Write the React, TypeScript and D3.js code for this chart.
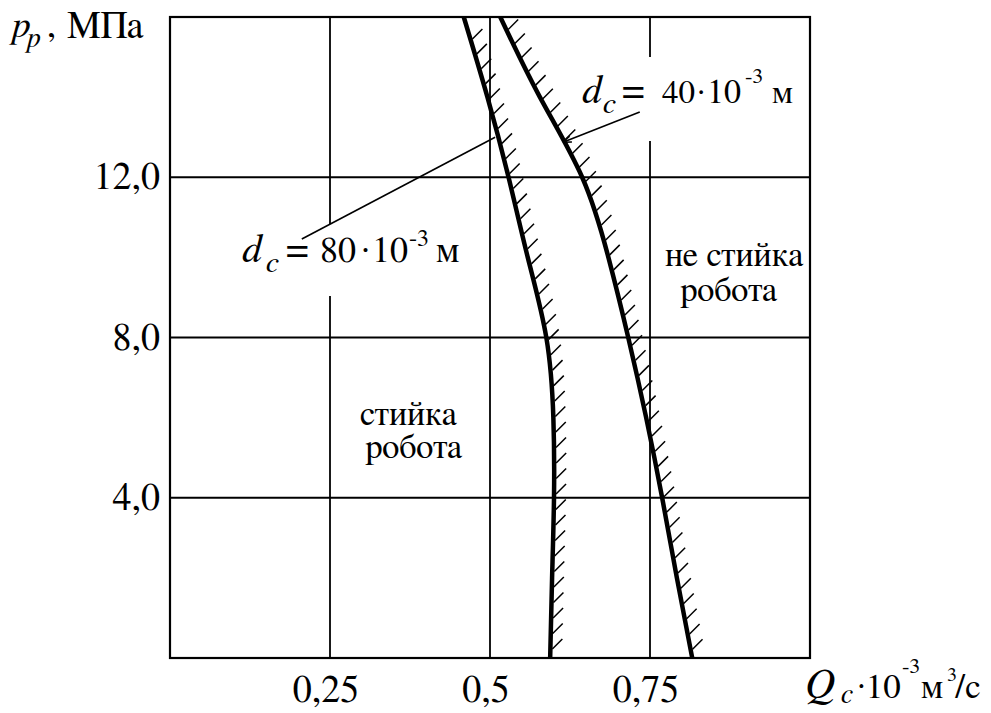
import React, { useEffect, useRef } from 'react';
import * as d3 from 'd3';

// Axis ticks
const pressureTicks = [4, 8, 12];
const pressureTickLabels = ['4,0', '8,0', '12,0'];
const flowTicks = [0.25, 0.5, 0.75];
const flowTickLabels = ['0,25', '0,5', '0,75'];

// Curves: pressure p_p (MPa) vs flow Q_c (10^-3 m^3/s)
const pressure = [0, 2, 4, 6, 8, 10, 12, 14, 16];
const flowD80 = [0.594, 0.597, 0.6, 0.599, 0.588, 0.559, 0.529, 0.496, 0.459];
const flowD40 = [0.816, 0.792, 0.769, 0.744, 0.716, 0.685, 0.644, 0.578, 0.516];

// Leader lines (data coords): [fromQ, fromP, toQ, toP]
const leader40 = [0.734, 13.63, 0.614, 12.875];
const leader80 = [0.206, 10.46, 0.508, 13.0];

const FONT = "FreeSerif, 'Times New Roman', serif";

export default function App() {
  const ref = useRef<SVGSVGElement | null>(null);

  useEffect(() => {
    const svg = d3.select(ref.current);
    svg.selectAll('*').remove();

    const x = d3.scaleLinear().domain([0, 1]).range([170, 810]);
    const y = d3.scaleLinear().domain([0, 16]).range([658, 17]);

    const g = svg.append('g');

    // grid
    g.selectAll('line.vg')
      .data(flowTicks)
      .enter()
      .append('line')
      .attr('x1', (d) => x(d))
      .attr('x2', (d) => x(d))
      .attr('y1', y(16))
      .attr('y2', y(0))
      .attr('stroke', '#000')
      .attr('stroke-width', 1.8);
    g.selectAll('line.hg')
      .data(pressureTicks)
      .enter()
      .append('line')
      .attr('x1', x(0))
      .attr('x2', x(1))
      .attr('y1', (d) => y(d))
      .attr('y2', (d) => y(d))
      .attr('stroke', '#000')
      .attr('stroke-width', 1.8);

    // label backgrounds (break gridlines)
    g.append('rect').attr('x', 574).attr('y', 57).attr('width', 232).attr('height', 84).attr('fill', '#fff');
    g.append('rect').attr('x', 236).attr('y', 224).attr('width', 234).attr('height', 72).attr('fill', '#fff');

    const line = d3
      .line<number>()
      .x((d) => x(d))
      .y((_, i) => y(pressure[i]))
      .curve(d3.curveNatural);

    [flowD80, flowD40].forEach((series) => {
      const path = g
        .append('path')
        .attr('d', line(series) as string)
        .attr('fill', 'none')
        .attr('stroke', '#000')
        .attr('stroke-width', 4.5)
        .attr('stroke-linecap', 'butt');
      const node = path.node() as SVGPathElement;
      const L = node.getTotalLength();
      const pts: { x: number; y: number }[] = [];
      for (let s = 9; s < L - 8; s += 15.5) {
        const p = node.getPointAtLength(s);
        pts.push({ x: p.x, y: p.y });
      }
      g.selectAll(null)
        .data(pts)
        .enter()
        .append('line')
        .attr('x1', (d) => d.x + 2)
        .attr('y1', (d) => d.y)
        .attr('x2', (d) => d.x + 12)
        .attr('y2', (d) => d.y - 10)
        .attr('stroke', '#000')
        .attr('stroke-width', 1.5);
    });

    // leader lines
    [leader40, leader80].forEach((l, idx) => {
      const x1 = x(l[0]), y1 = y(l[1]), x2 = x(l[2]), y2 = y(l[3]);
      g.append('line')
        .attr('x1', x1).attr('y1', y1).attr('x2', x2).attr('y2', y2)
        .attr('stroke', '#000').attr('stroke-width', 1.6);
      if (idx === 0) {
        const ang = Math.atan2(y1 - y2, x1 - x2);
        const len = 9;
        [0.35, -0.35].forEach((da) => {
          g.append('line')
            .attr('x1', x2).attr('y1', y2)
            .attr('x2', x2 + len * Math.cos(ang + da))
            .attr('y2', y2 + len * Math.sin(ang + da))
            .attr('stroke', '#000').attr('stroke-width', 1.4);
        });
      }
    });

    // frame
    g.append('rect')
      .attr('x', x(0)).attr('y', y(16))
      .attr('width', x(1) - x(0)).attr('height', y(0) - y(16))
      .attr('fill', 'none').attr('stroke', '#000').attr('stroke-width', 2.2);

    // tick labels
    g.selectAll('text.yt')
      .data(pressureTicks)
      .enter()
      .append('text')
      .attr('x', 160)
      .attr('y', (d) => y(d) + 12)
      .attr('text-anchor', 'end')
      .attr('font-size', 38)
      .text((_, i) => pressureTickLabels[i]);
    g.selectAll('text.xt')
      .data(flowTicks)
      .enter()
      .append('text')
      .attr('x', (d) => x(d) - 4)
      .attr('y', 702)
      .attr('text-anchor', 'middle')
      .attr('font-size', 38)
      .text((_, i) => flowTickLabels[i]);

    const txt = (s: string, px: number, py: number, size: number, italic = false) =>
      g.append('text')
        .attr('x', px).attr('y', py)
        .attr('font-size', size)
        .attr('font-style', italic ? 'italic' : 'normal')
        .text(s);

    // y axis title
    txt('p', 12, 37, 38, true);
    txt('p', 27, 47, 28, true);
    txt(',', 47, 37, 36);
    txt('МПа', 67, 38, 38);

    // x axis title
    txt('Q', 806, 698, 42, true);
    txt('c', 841, 703, 28, true);
    txt('·10', 857, 698, 35);
    txt('-3', 902, 673, 22);
    txt('м', 921, 698, 35);
    txt('3', 947, 681, 20);
    txt('/с', 955, 698, 35);

    // d_c = 40 label
    txt('d', 582, 103, 40, true);
    txt('c', 603, 113, 30, true);
    txt('=', 622, 103, 40);
    txt('40', 662, 103, 33);
    txt('·', 697, 103, 33);
    txt('10', 707, 103, 34);
    txt('-3', 745, 83, 22);
    txt('м', 772, 103, 33);

    // d_c = 80 label
    txt('d', 242, 262, 40, true);
    txt('c', 266, 272, 30, true);
    txt('=', 286, 262, 40);
    txt('80', 320, 262, 36);
    txt('·', 361, 262, 36);
    txt('10', 372, 262, 36);
    txt('-3', 409, 246, 24);
    txt('м', 436, 262, 37);

    // region labels
    txt('не стийка', 665, 266, 34.5);
    txt('робота', 680, 301, 34.5);
    txt('стийка', 360, 425, 34.5);
    txt('робота', 365, 458, 34.5);
  }, []);

  return (
    <svg
      ref={ref}
      width={991}
      height={713}
      style={{ position: 'absolute', left: 0, top: 0, background: '#fff', display: 'block', fontFamily: FONT }}
    />
  );
}
